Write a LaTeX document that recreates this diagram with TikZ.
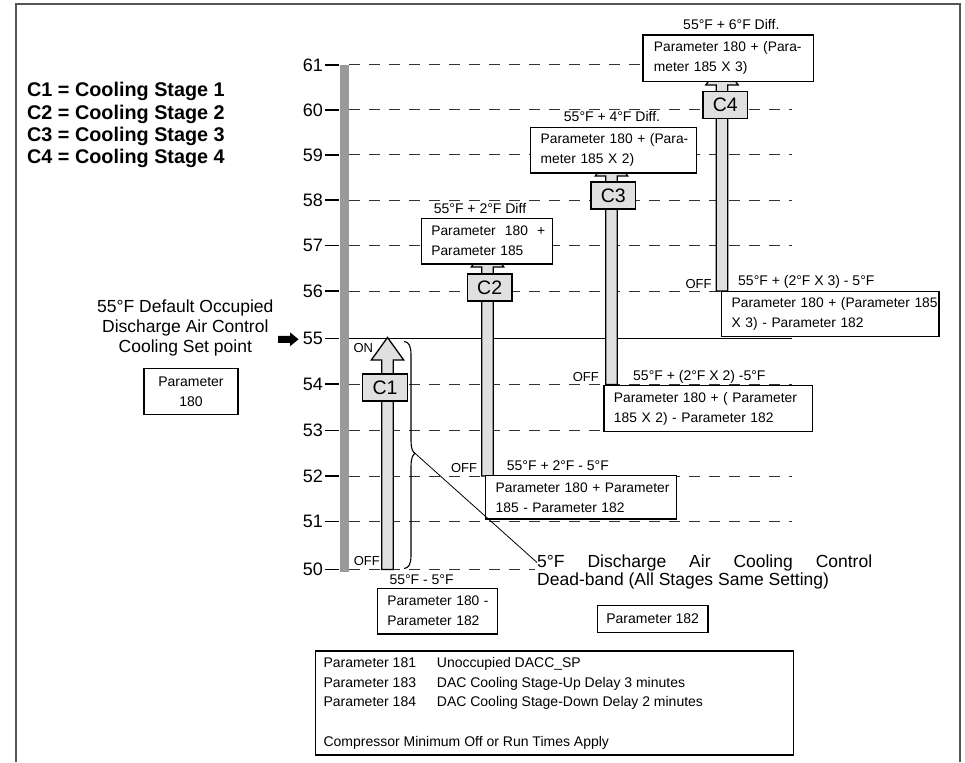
\documentclass[tikz,border=0pt]{standalone}
\usepackage{fontspec}
\setmainfont{Liberation Sans}
\usetikzlibrary{arrows.meta}
\definecolor{barfill}{HTML}{E0E0E0}
\definecolor{axisgray}{HTML}{9A9A9A}
\definecolor{framegray}{HTML}{555555}
\definecolor{dashgray}{HTML}{333333}
\newcommand\stagearrow[4]{%
  \draw[stagebar] ({#1-5.8},{#2}) -- ({#1-5.8},{#3}) -- ({#1-16.2},{#3}) -- ({#1},{#4})
    -- ({#1+16.2},{#3}) -- ({#1+5.8},{#3}) -- ({#1+5.8},{#2}) -- cycle;}
\tikzset{
  stagebar/.style={draw=black, line width=1.3pt, fill=barfill, line join=miter},
  stagebox/.style={draw=black, line width=1.3pt, fill=barfill, inner sep=0pt,
    minimum width=44.6pt, minimum height=27pt, font=\fontsize{19.5}{19.5}\selectfont},
  pbox/.style={draw=black, line width=1.3pt, fill=white, inner xsep=10pt, inner ysep=0pt,
    align=left, anchor=north west, font=\fontsize{13.8}{20}\selectfont},
  lbl/.style={inner sep=0pt, font=\fontsize{14}{16}\selectfont},
  onoff/.style={inner sep=0pt, font=\fontsize{13}{15}\selectfont},
  big/.style={inner sep=0pt, font=\fontsize{17.5}{20}\selectfont},
  legendtxt/.style={inner sep=0pt, anchor=base west, font=\bfseries\fontsize{19.8}{22}\selectfont},
  axisnum/.style={inner sep=0pt, anchor=east, font=\fontsize{18}{18}\selectfont},
  gridline/.style={draw=dashgray, line width=1pt, dash pattern=on 11pt off 9pt},
}
\begin{document}
\begin{tikzpicture}[x=1pt,y=-1pt]
\useasboundingbox (0,0) rectangle (965,762);
% frame
\draw[framegray, line width=1.5pt] (16,762) -- (16,4) -- (960,4) -- (960,762);
% legend
\node[legendtxt] (l1) at (27,97) {C1 = Cooling Stage 1};
\node[legendtxt] (l2) at (27,119.5) {C2 = Cooling Stage 2};
\node[legendtxt] (l3) at (27,142) {C3 = Cooling Stage 3};
\node[legendtxt] (l4) at (27,163.5) {C4 = Cooling Stage 4};
% axis bar
\fill[axisgray] (340,65) rectangle (349,571.5);
% grid lines
\foreach \v/\y/\e in {61/65/792,60/110/792,59/155/792,58/200/792,57/245.5/792,56/291/792,54/384/792,53/430.5/792,52/476/792,51/521.5/792,50/569.5/535}{
  \draw[gridline] (349,\y) -- (\e,\y);
  \draw[black, line width=1.5pt] (325,\y) -- (339,\y);
  \node[axisnum] (n\v) at (323,\y) {\v};
}
\draw[black, line width=1.3pt] (349,338.3) -- (792,338.3);
\draw[black, line width=1.5pt] (325,338.3) -- (339,338.3);
\node[axisnum] (n55) at (323,338.3) {55};
% set point arrow
\fill[black] (278,335.8) -- (290,335.8) -- (290,332.3) -- (298.5,339.3) -- (290,346.3) -- (290,342.8) -- (278,342.8) -- cycle;
% left text
\node[big, anchor=base] (sp1) at (185.3,312.3) {55°F Default Occupied};
\node[big, anchor=base] (sp2) at (185.3,332) {Discharge Air Control};
\node[big, anchor=base] (sp3) at (185.3,352.3) {Cooling Set point};
\node[draw=black, line width=1.3pt, fill=white, anchor=north west, minimum width=94pt, minimum height=46pt,
  align=center, inner sep=0pt, font=\fontsize{14}{20}\selectfont] (p180) at (143.3,368) {Parameter\\180};
% stage arrows
\stagearrow{387.5}{569.5}{360}{337.5}
\stagearrow{487.5}{476}{267}{244}
\stagearrow{611.5}{384.5}{176}{153}
\stagearrow{722}{291}{85}{62}
% stage boxes
\node[stagebox] (c1) at (385,387.5) {C1};
\node[stagebox] (c2) at (489.7,287.5) {C2};
\node[stagebox] (c3) at (613.3,195.5) {C3};
\node[stagebox] (c4) at (725.3,105) {C4};
% parameter boxes (stage on)
\node[pbox, minimum width=131pt, minimum height=45.6pt, text width=111pt] (p2on) at (420.7,217.7)
  {\mbox{Parameter~~180~~+}\\\mbox{Parameter 185}};
\node[pbox, minimum width=166pt, minimum height=45.6pt, text width=146pt] (p3on) at (530,126.7)
  {\mbox{Parameter 180 + (Para-}\\\mbox{meter 185 X 2)}};
\node[pbox, minimum width=168.4pt, minimum height=46.4pt, text width=148.4pt, inner xsep=11pt] (p4on) at (642.3,34.3)
  {\mbox{Parameter 180 + (Para-}\\\mbox{meter 185 X 3)}};
% parameter boxes (stage off)
\node[pbox, minimum width=191pt, minimum height=43.3pt, text width=171pt] (p2off) at (485,475)
  {\mbox{Parameter 180 + Parameter}\\\mbox{185 - Parameter 182}};
\node[pbox, minimum width=208.4pt, minimum height=46pt, text width=188.4pt] (p3off) at (603.3,385)
  {\mbox{Parameter 180 + ( Parameter}\\\mbox{185 X 2) - Parameter 182}};
\node[pbox, minimum width=217.3pt, minimum height=45.3pt, text width=197.3pt] (p4off) at (721,290.7)
  {\mbox{Parameter 180 + (Parameter 185}\\\mbox{X 3) - Parameter 182}};
\node[pbox, minimum width=120pt, minimum height=45.6pt, text width=100pt] (p1off) at (376.7,587.7)
  {\mbox{Parameter 180 -}\\\mbox{Parameter 182}};
\node[draw=black, line width=1.3pt, fill=white, anchor=north west, minimum width=110.6pt, minimum height=26.7pt,
  inner sep=0pt, font=\fontsize{14}{16}\selectfont] (p182) at (596.7,605) {Parameter 182};
% labels
\node[lbl, anchor=base] (d2) at (480,213) {55°F + 2°F Diff};
\node[lbl, anchor=base] (d3) at (612,121.7) {55°F + 4°F Diff.};
\node[lbl, anchor=base] (d4) at (731.3,30) {55°F + 6°F Diff.};
\node[lbl, anchor=base west] (o2) at (506.7,470) {55°F + 2°F - 5°F};
\node[lbl, anchor=base west] (o3) at (633,380.7) {55°F + (2°F X 2) -5°F};
\node[lbl, anchor=base west] (o4) at (738,285) {55°F + (2°F X 3) - 5°F};
\node[lbl, anchor=base west] (o1) at (389.3,584.3) {55°F - 5°F};
\node[onoff, anchor=base east] (off1) at (380,565) {OFF};
\node[onoff, anchor=base east] (off2) at (477.3,472.7) {OFF};
\node[onoff, anchor=base east] (off3) at (599,381) {OFF};
\node[onoff, anchor=base east] (off4) at (711.7,288.3) {OFF};
\node[onoff, anchor=base west] (on1) at (353.3,352.3) {ON};
% brace
\coordinate (bt) at (404,341.5);
\coordinate (bb) at (404,568.5);
\coordinate (cusp) at (415,453.3);
\draw[black, line width=1.1pt] (bt) .. controls (409,342) and (411,346) .. (411,355)
  -- (411,440) .. controls (411,450) and (413,452) .. (cusp)
  .. controls (413,455) and (411,457) .. (411,467)
  -- (411,555) .. controls (411,564) and (409,568) .. (bb);
% dead band text
\node[big, anchor=base west] (db1) at (537,567) {\hbox to 335pt{5°F\hfill Discharge\hfill Air\hfill Cooling\hfill Control}};
\node[big, anchor=base west] (db2) at (537,585.6) {Dead-band (All Stages Same Setting)};
\draw[black, line width=0.8pt] (cusp) -- (db1.west);
% bottom box
\draw[black, line width=1.3pt] (315.7,651) rectangle (793.3,755);
\node[lbl, anchor=base west] (b1a) at (323.3,667.7) {Parameter 181};
\node[lbl, anchor=base west] (b1b) at (436.7,667.7) {Unoccupied DACC\_SP};
\node[lbl, anchor=base west] (b2a) at (323.3,687.3) {Parameter 183};
\node[lbl, anchor=base west] (b2b) at (436.7,687.3) {DAC Cooling Stage-Up Delay 3 minutes};
\node[lbl, anchor=base west] (b3a) at (323.3,706.7) {Parameter 184};
\node[lbl, anchor=base west] (b3b) at (436.7,706.7) {DAC Cooling Stage-Down Delay 2 minutes};
\node[lbl, anchor=base west] (b4) at (323.3,746.7) {Compressor Minimum Off or Run Times Apply};
\end{tikzpicture}
\end{document}
